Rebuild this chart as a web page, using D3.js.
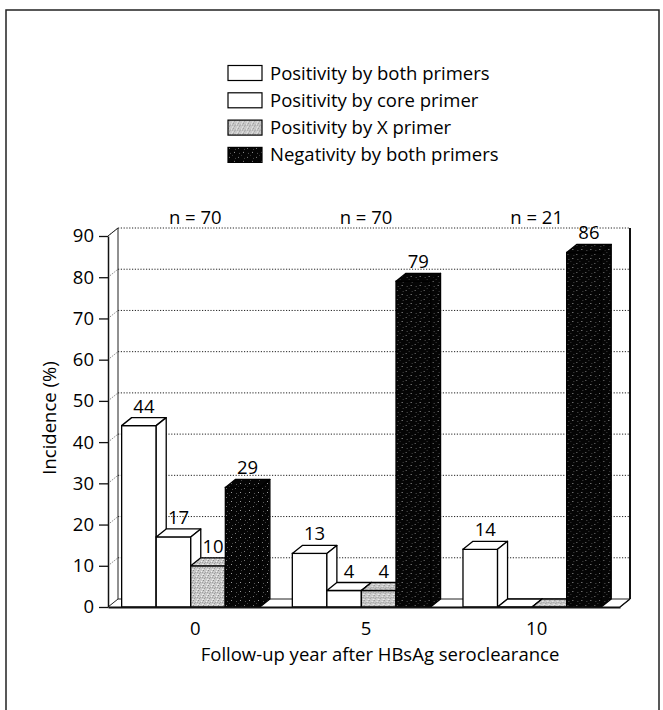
<!DOCTYPE html>
<html>
<head>
<meta charset="utf-8">
<script src="https://cdn.jsdelivr.net/npm/d3@7"></script>
<style>
  html, body { margin: 0; padding: 0; background: #fff; }
  svg text { font-family: "Open Sans", sans-serif; fill: #000; }
</style>
</head>
<body>
<script>
// Follow-up years after HBsAg seroclearance and the group sizes
const categories = ["0", "5", "10"];
const sampleSizes = ["n = 70", "n = 70", "n = 21"];

// Incidence (%) per detection pattern, one value per follow-up year
const seriesNames = [
  "Positivity by both primers",
  "Positivity by core primer",
  "Positivity by X primer",
  "Negativity by both primers"
];
const bothPositive = [44, 13, 14];
const corePositive = [17, 4, 0];
const xPositive = [10, 4, 0];
const bothNegative = [29, 79, 86];

const yTicks = [0, 10, 20, 30, 40, 50, 60, 70, 80, 90];
const xTitle = "Follow-up year after HBsAg seroclearance";
const yTitle = "Incidence (%)";

const seriesValues = [bothPositive, corePositive, xPositive, bothNegative];
const seriesFill = ["#fff", "#fff", "url(#stippleGray)", "url(#stippleDark)"];

const W = 663, H = 710;
const DX = 10, DY = -8; // depth offset of the 3-D boxes
const plotLeft = 108, plotRight = 620, baseY = 607, topY = 236;
const FS = 18.5;

const svg = d3.select("body").append("svg")
  .attr("width", W).attr("height", H);

// Textures for the stippled bars
const defs = svg.append("defs");
const pg = defs.append("pattern").attr("id", "stippleGray")
  .attr("patternUnits", "userSpaceOnUse").attr("width", 5).attr("height", 5);
pg.append("rect").attr("width", 5).attr("height", 5).attr("fill", "#c8c8c8");
[[0,0,"#8a8a8a"],[3,1,"#f0f0f0"],[1,3,"#9a9a9a"],[4,4,"#eeeeee"],[2,2,"#a4a4a4"],[0,4,"#e2e2e2"],[4,2,"#a0a0a0"]]
  .forEach(([x, y, c]) => pg.append("rect").attr("x", x).attr("y", y).attr("width", 1).attr("height", 1).attr("fill", c));
const pd = defs.append("pattern").attr("id", "stippleDark")
  .attr("patternUnits", "userSpaceOnUse").attr("width", 9).attr("height", 9);
pd.append("rect").attr("width", 9).attr("height", 9).attr("fill", "#050505");
[[1,2,"#7a7a7a"],[6,6,"#9a9a9a"],[4,0,"#3a3a3a"],[7,3,"#444"],[2,7,"#555"]]
  .forEach(([x, y, c]) => pd.append("rect").attr("x", x).attr("y", y).attr("width", 1).attr("height", 1).attr("fill", c));

// Figure frame (open at the bottom)
svg.append("path")
  .attr("d", `M6,${H} L6,10 L659,10 L659,${H}`)
  .attr("fill", "none").attr("stroke", "#222").attr("stroke-width", 1.5);

// Scales
const y = d3.scaleLinear().domain([0, 90]).range([baseY, topY]);
const x0 = d3.scaleBand().domain(categories).range([plotLeft, plotRight]);
const xSub = d3.scaleBand().domain(seriesNames)
  .range([x0.bandwidth() * 0.08, x0.bandwidth() * 0.89]);

// Back wall grid lines and the dotted joins on the left wall
const grid = svg.append("g");
grid.selectAll("line.g").data(yTicks.filter(d => d > 0)).join("line")
  .attr("x1", plotLeft + DX).attr("x2", plotRight + DX)
  .attr("y1", d => y(d) + DY).attr("y2", d => y(d) + DY)
  .attr("stroke", "#222").attr("stroke-width", 1).attr("stroke-dasharray", "1.2,1.6");
grid.selectAll("line.j").data(yTicks.filter(d => d > 0)).join("line")
  .attr("x1", plotLeft).attr("x2", plotLeft + DX)
  .attr("y1", d => y(d)).attr("y2", d => y(d) + DY)
  .attr("stroke", "#333").attr("stroke-width", 0.8).attr("stroke-dasharray", "1,1.5");

// Left wall back edge and top join
svg.append("path")
  .attr("d", `M${plotLeft + DX},${y(0) + DY} L${plotLeft + DX},${y(90) + DY} L${plotLeft},${y(90)}`)
  .attr("fill", "none").attr("stroke", "#222").attr("stroke-width", 1);

// Floor: back edge and side joins
svg.append("path")
  .attr("d", `M${plotLeft},${y(0)} L${plotLeft + DX},${y(0) + DY} L${plotRight + DX},${y(0) + DY} L${plotRight},${y(0)}`)
  .attr("fill", "#fff").attr("stroke", "#222").attr("stroke-width", 1);

// Right wall
svg.append("line")
  .attr("x1", plotRight + DX).attr("x2", plotRight + DX)
  .attr("y1", y(90) + DY).attr("y2", y(0) + DY)
  .attr("stroke", "#111").attr("stroke-width", 2);

// Bars as 3-D boxes
const rows = categories.map((c, i) => ({
  cat: c,
  bars: seriesNames.map((s, j) => ({ key: s, value: seriesValues[j][i], fill: seriesFill[j] }))
}));

const groups = svg.append("g").selectAll("g").data(rows).join("g")
  .attr("transform", d => `translate(${x0(d.cat)},0)`);

const bar = groups.selectAll("g").data(d => d.bars).join("g");
const bw = xSub.bandwidth();

bar.append("rect")
  .attr("x", d => xSub(d.key)).attr("y", d => y(d.value))
  .attr("width", bw).attr("height", d => y(0) - y(d.value))
  .attr("fill", d => d.fill).attr("stroke", "#000").attr("stroke-width", 1.3);

bar.append("path")
  .attr("d", d => {
    const x = xSub(d.key), t = y(d.value);
    return `M${x},${t} L${x + DX},${t + DY} L${x + bw + DX},${t + DY} L${x + bw},${t} Z`;
  })
  .attr("fill", d => d.fill).attr("stroke", "#000").attr("stroke-width", 1.3)
  .attr("stroke-linejoin", "round");

bar.append("path")
  .attr("d", d => {
    const x = xSub(d.key) + bw, t = y(d.value), b = y(0);
    return `M${x},${t} L${x + DX},${t + DY} L${x + DX},${b + DY} L${x},${b} Z`;
  })
  .attr("fill", d => d.fill).attr("stroke", "#000").attr("stroke-width", 1.3)
  .attr("stroke-linejoin", "round");

// Value labels above the boxes
bar.filter(d => d.value > 0).append("text")
  .attr("x", d => xSub(d.key) + bw / 2 + DX / 2)
  .attr("y", d => y(d.value) + DY - 5)
  .attr("text-anchor", "middle").attr("font-size", FS)
  .text(d => d.value);

// Group sizes above the plot
svg.append("g").selectAll("text").data(categories).join("text")
  .attr("x", d => x0(d) + x0.bandwidth() / 2 + 2)
  .attr("y", 224)
  .attr("text-anchor", "middle").attr("font-size", FS)
  .text((d, i) => sampleSizes[i]);

// Y axis
const yAxis = svg.append("g")
  .attr("transform", `translate(${plotLeft},0)`)
  .call(d3.axisLeft(y).tickValues(yTicks).tickSize(9).tickSizeOuter(0).tickPadding(5));
yAxis.select(".domain").attr("stroke", "#111").attr("stroke-width", 1.5);
yAxis.selectAll(".tick line").attr("stroke", "#111").attr("stroke-width", 1.3);
yAxis.selectAll(".tick text").attr("font-size", FS).attr("font-family", "'Open Sans', sans-serif").attr("fill", "#000");

// X axis (front floor edge)
const xAxis = svg.append("g")
  .attr("transform", `translate(0,${baseY})`)
  .call(d3.axisBottom(x0).tickSize(0).tickSizeOuter(0).tickPadding(15));
xAxis.select(".domain").attr("stroke", "#111").attr("stroke-width", 2);
xAxis.selectAll(".tick text").attr("font-size", FS).attr("font-family", "'Open Sans', sans-serif")
  .attr("fill", "#000").attr("dx", 2);

// Right front floor corner
svg.append("line")
  .attr("x1", plotRight).attr("y1", y(0)).attr("x2", plotRight + DX).attr("y2", y(0) + DY)
  .attr("stroke", "#111").attr("stroke-width", 1.5);

// Axis titles
svg.append("text")
  .attr("transform", `translate(56,418) rotate(-90)`)
  .attr("text-anchor", "middle").attr("font-size", FS)
  .text(yTitle);
svg.append("text")
  .attr("x", 380).attr("y", 661)
  .attr("text-anchor", "middle").attr("font-size", FS)
  .text(xTitle);

// Legend
const legend = svg.append("g").selectAll("g").data(seriesNames).join("g")
  .attr("transform", (d, i) => `translate(228,${73 + i * 27.3})`);
legend.append("rect")
  .attr("x", 0).attr("y", -7.5).attr("width", 34).attr("height", 15)
  .attr("fill", (d, i) => seriesFill[i]).attr("stroke", "#000").attr("stroke-width", 1.2);
legend.append("text")
  .attr("x", 42).attr("y", 6.5).attr("font-size", FS)
  .text(d => d);
</script>
</body>
</html>
